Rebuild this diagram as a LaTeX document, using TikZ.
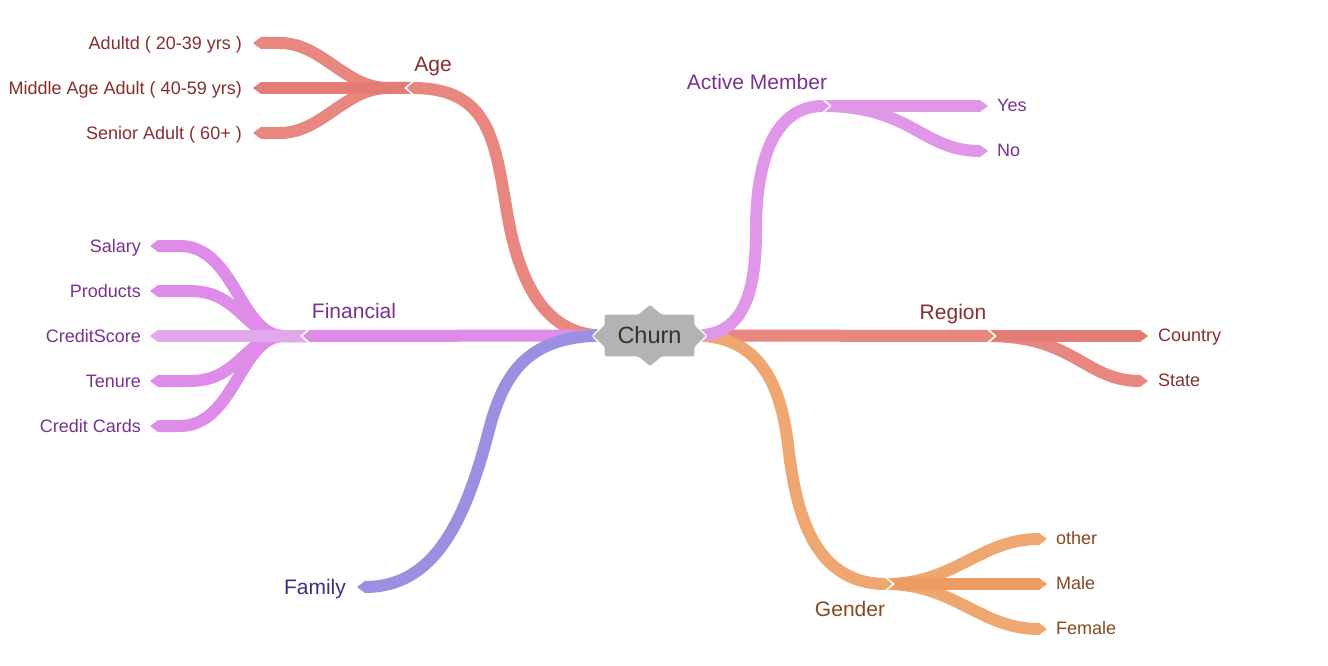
\documentclass[tikz,border=0pt]{standalone}
\usepackage{fontspec}
\setmainfont{Liberation Sans}
\usetikzlibrary{calc,backgrounds}
\definecolor{agec}{RGB}{232,134,128}
\definecolor{agec2}{RGB}{228,124,118}
\definecolor{finc}{RGB}{221,141,232}
\definecolor{finc2}{RGB}{227,168,235}
\definecolor{famc}{RGB}{155,143,226}
\definecolor{actc}{RGB}{224,151,234}
\definecolor{genc}{RGB}{240,166,112}
\definecolor{genc2}{RGB}{237,157,99}
\definecolor{agetx}{RGB}{135,45,45}
\definecolor{fintx}{RGB}{122,48,142}
\definecolor{famtx}{RGB}{58,48,128}
\definecolor{gentx}{RGB}{135,72,30}
\definecolor{nodegray}{RGB}{179,179,179}
\definecolor{nodetx}{RGB}{51,51,51}
\begin{document}
\begin{tikzpicture}[x=1pt,y=-1pt,
  br/.style={line width=12pt},
  mainlbl/.style={font=\fontsize{21}{25}\selectfont, inner sep=0, anchor=base},
  leafl/.style={font=\fontsize{18}{21}\selectfont, inner sep=0, anchor=base east},
  leafr/.style={font=\fontsize{18}{21}\selectfont, inner sep=0, anchor=base west},
  notch/.style={white, line width=1.6pt, line join=miter},
]
\useasboundingbox (0,0) rectangle (1328,666);

% junctions and leaf ends
\coordinate (ageJ) at (413,88);
\coordinate (a1) at (261,43);
\coordinate (a2) at (261,88);
\coordinate (a3) at (261,133);
\coordinate (finJ) at (309,336);
\coordinate (f1) at (158,246);
\coordinate (f2) at (158,291);
\coordinate (f3) at (158,336);
\coordinate (f4) at (158,381);
\coordinate (f5) at (158,426);
\coordinate (famE) at (365,587);
\coordinate (actJ) at (823,106);
\coordinate (y1) at (980,106);
\coordinate (y2) at (980,151);
\coordinate (regJ) at (988,336);
\coordinate (r1) at (1140,336);
\coordinate (r2) at (1140,381);
\coordinate (genJ) at (886,584);
\coordinate (g1) at (1039,539);
\coordinate (g2) at (1039,584);
\coordinate (g3) at (1039,629);

% center node shape
\fill[nodegray, draw=white, line width=1.2pt, rounded corners=1.5pt]
  (604,314) -- (638,314) -- (650,304) -- (662,314) -- (695,314) -- (695,325)
  -- (707,336) -- (695,347) -- (695,357) -- (662,357) -- (650,367) -- (638,357)
  -- (604,357) -- (604,347) -- (592,336) -- (604,325) -- cycle;
\node[minimum width=91pt, minimum height=43pt, inner sep=0, text=nodetx,
  font=\fontsize{23.5}{28}\selectfont] (churn) at (649.5,335.5) {Churn};

\begin{scope}[on background layer]
% ---- Age
\draw[br,agec] (ageJ) -- ++(-25,0) .. controls (345,88) and (322,43) .. (280,43) -- (a1);
\draw[br,agec] (ageJ) -- ++(-25,0) .. controls (345,88) and (322,133) .. (280,133) -- (a3);
\draw[br,agec2] (ageJ) -- (a2);
\fill[agec] (a1) ++(0,-6) -- ++(-8,6) -- ++(8,6) -- cycle;
\fill[agec2] (a2) ++(0,-6) -- ++(-8,6) -- ++(8,6) -- cycle;
\fill[agec] (a3) ++(0,-6) -- ++(-8,6) -- ++(8,6) -- cycle;
\draw[br,agec] (churn.west) .. controls (540,336) and (517,272) .. (507,212)
  .. controls (495,142) and (490,88) .. (ageJ);
\fill[agec] (ageJ) ++(0,-6) -- ++(-7,6) -- ++(7,6) -- cycle;
\draw[notch] (ageJ) ++(0.5,-7) -- ++(-8,7) -- ++(8,7);
% ---- Financial
\draw[br,finc] (finJ) -- ++(-25,0) .. controls (240,336) and (235,246) .. (180,246) -- (f1);
\draw[br,finc] (finJ) -- ++(-25,0) .. controls (245,336) and (240,291) .. (190,291) -- (f2);
\draw[br,finc] (finJ) -- ++(-25,0) .. controls (245,336) and (240,381) .. (190,381) -- (f4);
\draw[br,finc] (finJ) -- ++(-25,0) .. controls (240,336) and (235,426) .. (180,426) -- (f5);
\draw[br,finc2] (finJ) -- (f3);
\foreach \p in {f1,f2,f4,f5}
  \fill[finc] (\p) ++(0,-6) -- ++(-8,6) -- ++(8,6) -- cycle;
\fill[finc2] (f3) ++(0,-6) -- ++(-8,6) -- ++(8,6) -- cycle;
\draw[br,finc] (churn.west) -- (finJ);
\fill[finc] (finJ) ++(0,-6) -- ++(-7,6) -- ++(7,6) -- cycle;
\draw[notch] (finJ) ++(0.5,-7) -- ++(-8,7) -- ++(8,7);
% ---- Family
\draw[br,famc] (churn.west) .. controls (530,336) and (504.6,370) .. (489,430)
  .. controls (465.6,520) and (435,587) .. (famE);
\fill[famc] (famE) ++(0,-6) -- ++(-8,6) -- ++(8,6) -- cycle;
% ---- Region
\draw[br,agec] (regJ) .. controls (1075,336) and (1085,381) .. (r2);
\draw[br,agec2] (regJ) -- (r1);
\fill[agec2] (r1) ++(0,-6) -- ++(8,6) -- ++(-8,6) -- cycle;
\fill[agec] (r2) ++(0,-6) -- ++(8,6) -- ++(-8,6) -- cycle;
\draw[br,agec] (churn.east) -- (regJ);
\fill[agec] (regJ) ++(0,-6) -- ++(7,6) -- ++(-7,6) -- cycle;
\draw[notch] (regJ) ++(-0.5,-7) -- ++(8,7) -- ++(-8,7);
% ---- Gender
\draw[br,genc] (genJ) .. controls (955,584) and (980,539) .. (g1);
\draw[br,genc] (genJ) .. controls (955,584) and (980,629) .. (g3);
\draw[br,genc2] (genJ) -- (g2);
\fill[genc] (g1) ++(0,-6) -- ++(8,6) -- ++(-8,6) -- cycle;
\fill[genc2] (g2) ++(0,-6) -- ++(8,6) -- ++(-8,6) -- cycle;
\fill[genc] (g3) ++(0,-6) -- ++(8,6) -- ++(-8,6) -- cycle;
\draw[br,genc] (churn.east) .. controls (760,336) and (780.8,385) .. (788,445)
  .. controls (795.2,505) and (810,584) .. (genJ);
\fill[genc] (genJ) ++(0,-6) -- ++(7,6) -- ++(-7,6) -- cycle;
\draw[notch] (genJ) ++(-0.5,-7) -- ++(8,7) -- ++(-8,7);
% ---- Active Member
\draw[br,actc] (actJ) .. controls (912,106) and (922,151) .. (y2);
\draw[br,actc] (actJ) -- (y1);
\fill[actc] (y1) ++(0,-6) -- ++(8,6) -- ++(-8,6) -- cycle;
\fill[actc] (y2) ++(0,-6) -- ++(8,6) -- ++(-8,6) -- cycle;
\draw[br,actc] (churn.east) .. controls (745,336) and (756,290) .. (756,230)
  .. controls (756,170) and (770,106) .. (actJ);
\fill[actc] (actJ) ++(0,-6) -- ++(7,6) -- ++(-7,6) -- cycle;
\draw[notch] (actJ) ++(-0.5,-7) -- ++(8,7) -- ++(-8,7);
\end{scope}

% ---- labels
\node[mainlbl, text=agetx] (tAge) at (433,71.5) {Age};
\node[mainlbl, text=fintx] (tFin) at (354,318.5) {Financial};
\node[mainlbl, text=famtx] (tFam) at (315,594) {Family};
\node[mainlbl, text=fintx] (tAct) at (757,89.5) {Active Member};
\node[mainlbl, text=agetx] (tReg) at (953,319) {Region};
\node[mainlbl, text=gentx] (tGen) at (850,616.5) {Gender};

\node[leafl, text=agetx] (la1) at (242,49.5) {Adultd ( 20-39 yrs )};
\node[leafl, text=agetx] (la2) at (242,94.5) {Middle Age Adult ( 40-59 yrs)};
\node[leafl, text=agetx] (la3) at (242,139.5) {Senior Adult ( 60+ )};

\node[leafl, text=fintx] (lf1) at (141,252.5) {Salary};
\node[leafl, text=fintx] (lf2) at (141,297.5) {Products};
\node[leafl, text=fintx] (lf3) at (141,342.5) {CreditScore};
\node[leafl, text=fintx] (lf4) at (141,387.5) {Tenure};
\node[leafl, text=fintx] (lf5) at (141,432.5) {Credit Cards};

\node[leafr, text=fintx] (ly1) at (997,111.5) {Yes};
\node[leafr, text=fintx] (ly2) at (997,156.5) {No};

\node[leafr, text=agetx] (lr1) at (1158,341.5) {Country};
\node[leafr, text=agetx] (lr2) at (1158,386.5) {State};

\node[leafr, text=gentx] (lg1) at (1056,544.5) {other};
\node[leafr, text=gentx] (lg2) at (1056,589.5) {Male};
\node[leafr, text=gentx] (lg3) at (1056,634.5) {Female};
\end{tikzpicture}
\end{document}
